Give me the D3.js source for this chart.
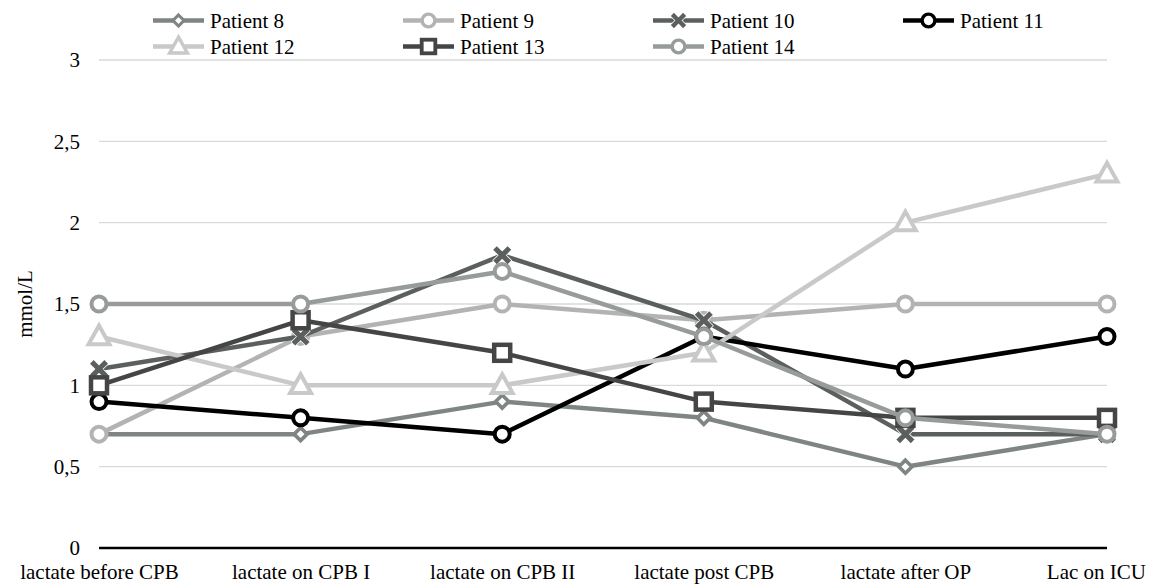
<!DOCTYPE html>
<html>
<head>
<meta charset="utf-8">
<script src="https://cdn.jsdelivr.net/npm/d3@7/dist/d3.min.js"></script>
<style>
  html, body { margin: 0; padding: 0; background: #fff; }
  svg { display: block; font-family: "Liberation Serif", "Times New Roman", serif; }
</style>
</head>
<body>
<svg id="chart" width="1167" height="585"></svg>
<script>
// Lactate measurements per patient across the perioperative time points
const categories = ["lactate before CPB", "lactate on CPB I", "lactate on CPB II",
                    "lactate post CPB", "lactate after OP", "Lac on ICU"];
const patient8  = [0.7, 0.7, 0.9, 0.8, 0.5, 0.7];
const patient9  = [0.7, 1.3, 1.5, 1.4, 1.5, 1.5];
const patient10 = [1.1, 1.3, 1.8, 1.4, 0.7, 0.7];
const patient11 = [0.9, 0.8, 0.7, 1.3, 1.1, 1.3];
const patient12 = [1.3, 1.0, 1.0, 1.2, 2.0, 2.3];
const patient13 = [1.0, 1.4, 1.2, 0.9, 0.8, 0.8];
const patient14 = [1.5, 1.5, 1.7, 1.3, 0.8, 0.7];
const yTicks = [0, 0.5, 1, 1.5, 2, 2.5, 3];
const yTitle = "mmol/L";

const series = [
  { name: "Patient 8",  values: patient8,  color: "#7f8582", marker: "diamond" },
  { name: "Patient 9",  values: patient9,  color: "#b3b3b3", marker: "circle" },
  { name: "Patient 10", values: patient10, color: "#5b5f5d", marker: "x" },
  { name: "Patient 11", values: patient11, color: "#000000", marker: "circle" },
  { name: "Patient 12", values: patient12, color: "#c9c9c9", marker: "triangle" },
  { name: "Patient 13", values: patient13, color: "#454545", marker: "square" },
  { name: "Patient 14", values: patient14, color: "#979c99", marker: "circle" }
];

const svg = d3.select("#chart");
const plot = { left: 99, right: 1107, top: 60, bottom: 548 };
const fontSize = 21;
const serif = "Liberation Serif, Times New Roman, serif";

const x = d3.scalePoint().domain(categories).range([plot.left, plot.right]);
const y = d3.scaleLinear().domain([0, 3]).range([plot.bottom, plot.top]);

// horizontal gridlines
svg.append("g")
  .selectAll("line")
  .data(yTicks.filter(t => t > 0))
  .join("line")
  .attr("x1", plot.left).attr("x2", plot.right)
  .attr("y1", d => y(d)).attr("y2", d => y(d))
  .attr("stroke", "#d9d9d9").attr("stroke-width", 1.3);

// y axis labels (decimal comma)
const yAxis = d3.axisLeft(y).tickValues(yTicks).tickSize(0).tickPadding(0)
  .tickFormat(d => String(d).replace(".", ","));
const gy = svg.append("g").attr("transform", `translate(${80},0)`).call(yAxis);
gy.select(".domain").remove();
gy.attr("font-family", serif);
gy.selectAll("text")
  .attr("font-size", fontSize).attr("fill", "#000")
  .attr("dy", "0.33em");

// category axis
const xAxis = d3.axisBottom(x).tickSize(0).tickPadding(0);
const gx = svg.append("g").attr("transform", `translate(0,${plot.bottom})`).call(xAxis);
gx.attr("font-family", serif);
gx.select(".domain").attr("stroke", "#000").attr("stroke-width", 2.6)
  .attr("d", `M${plot.left},0H${plot.right}`);
gx.selectAll("text")
  .attr("font-size", fontSize).attr("fill", "#000")
  .attr("y", 31).attr("dy", 0);
// keep category labels inside the chart area's right margin
const labelRightLimit = 1146;
gx.selectAll("text").each(function () {
  const b = this.getBBox();
  const tx = +d3.select(this.parentNode).attr("transform").match(/translate\(([-\d.]+)/)[1];
  const right = tx + b.x + b.width;
  if (right > labelRightLimit) d3.select(this).attr("x", labelRightLimit - right);
});

// y axis title
svg.append("text")
  .attr("transform", `translate(32,${(plot.top + plot.bottom) / 2}) rotate(-90)`)
  .attr("text-anchor", "middle")
  .attr("font-size", fontSize)
  .text(yTitle);

// marker drawing
function drawMarker(g, type, color, scale) {
  const s = scale || 1;
  if (type === "circle") {
    g.append("circle").attr("r", 7.5 * s)
      .attr("fill", "#fff").attr("stroke", color).attr("stroke-width", 4 * s);
  } else if (type === "square") {
    const h = 8 * s;
    g.append("rect").attr("x", -h).attr("y", -h).attr("width", 2 * h).attr("height", 2 * h)
      .attr("fill", "#fff").attr("stroke", color).attr("stroke-width", 4.5 * s);
  } else if (type === "triangle") {
    const r = 11 * s;
    g.append("path")
      .attr("d", `M0,${-r}L${r * 0.95},${r * 0.7}L${-r * 0.95},${r * 0.7}Z`)
      .attr("fill", "#fff").attr("stroke", color).attr("stroke-width", 4 * s)
      .attr("stroke-linejoin", "miter");
  } else if (type === "diamond") {
    const r = 6.5 * s;
    g.append("path")
      .attr("d", `M0,${-r}L${r},0L0,${r}L${-r},0Z`)
      .attr("fill", "#fff").attr("stroke", color).attr("stroke-width", 3.6 * s);
  } else if (type === "x") {
    const a = 9 * s, w = 3.6 * s;
    const d = `M${-a},${-a + w}L${-w},0L${-a},${a - w}L${-a + w},${a}L0,${w}L${a - w},${a}` +
              `L${a},${a - w}L${w},0L${a},${-a + w}L${a - w},${-a}L0,${-w}L${-a + w},${-a}Z`;
    g.append("path").attr("d", d)
      .attr("fill", color).attr("stroke", "#fff").attr("stroke-width", 1.5)
      .attr("paint-order", "stroke");
  }
}

const line = d3.line()
  .x((d, i) => x(categories[i]))
  .y(d => y(d));

// series: line then its markers, drawn in order
series.forEach(s => {
  const g = svg.append("g");
  g.append("path")
    .attr("d", line(s.values))
    .attr("fill", "none")
    .attr("stroke", s.color)
    .attr("stroke-width", 4.5)
    .attr("stroke-linejoin", "round");
  s.values.forEach((v, i) => {
    const m = g.append("g").attr("transform", `translate(${x(categories[i])},${y(v)})`);
    drawMarker(m, s.marker, s.color, 1);
  });
});

// legend: two rows, four columns
const legendCols = [153, 403, 653, 903];
const legendRows = [20.5, 46.5];
series.forEach((s, i) => {
  const col = i % 4, row = Math.floor(i / 4);
  const g = svg.append("g")
    .attr("transform", `translate(${legendCols[col]},${legendRows[row]})`);
  g.append("line").attr("x1", 0).attr("x2", 51).attr("y1", 0).attr("y2", 0)
    .attr("stroke", s.color).attr("stroke-width", 4.5);
  const m = g.append("g").attr("transform", "translate(25.5,0)");
  drawMarker(m, s.marker, s.color, 0.85);
  g.append("text").attr("x", 57).attr("y", 7)
    .attr("font-size", fontSize).attr("fill", "#000")
    .text(s.name);
});
</script>
</body>
</html>
